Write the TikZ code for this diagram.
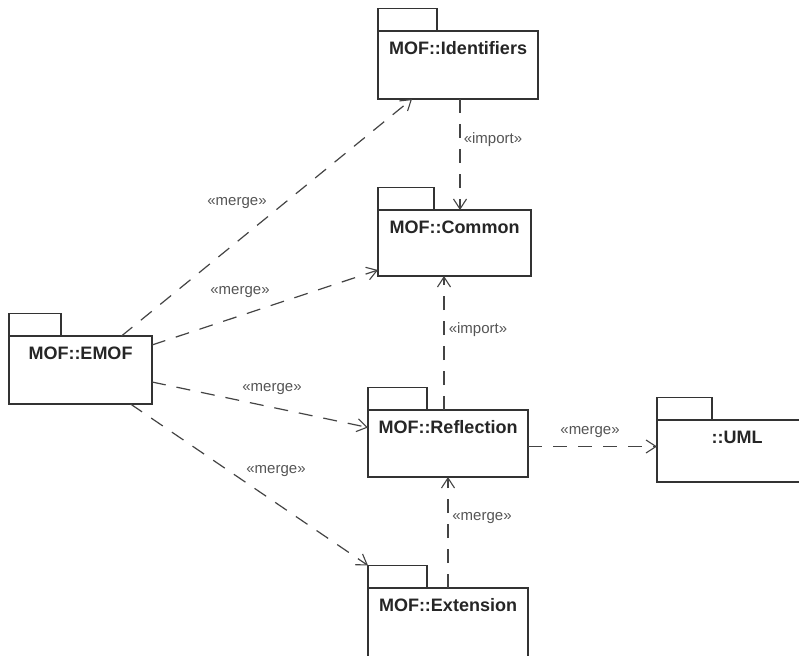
\documentclass[tikz,border=0pt]{standalone}
\usepackage{fontspec}
\setmainfont{Liberation Sans}
\usepackage{tikz}
\usetikzlibrary{arrows.meta,positioning}
\definecolor{boxline}{HTML}{333333}
\definecolor{depline}{HTML}{444444}
\definecolor{lbltext}{HTML}{555555}
\tikzset{
  pkg/.style = {draw=boxline, line width=1.2pt, fill=white, inner sep=0pt, outer sep=0pt},
  tab/.style = {pkg, minimum height=22.5pt},
  pkgname/.style = {font=\fontsize{18}{20}\selectfont\bfseries, text=black!85},
  dep/.style = {draw=depline, line width=1.2pt, dash pattern=on 14pt off 11pt,
    -{Straight Barb[length=10pt,width=13pt,line width=1.1pt]}},
  lbl/.style = {font=\fontsize{15}{17}\selectfont, text=lbltext, inner sep=1pt}
}
\begin{document}
\begin{tikzpicture}[x=1pt, y=-1pt]
\clip (0,0) rectangle (799,655);
\fill[white] (0,0) rectangle (799,655);
%packages
\foreach \n/\x/\y/\w/\h/\t/\s in {
    ident/458/65/160/68/59/{MOF::Identifiers},
    common/454.5/243/153/66/56/{MOF::Common},
    emof/80.5/370/143/68/52/{MOF::EMOF},
    refl/448/443.5/160/67/59/{MOF::Reflection},
    uml/737/451/160/62/55/{::UML},
    ext/448/624/160/72/59/{MOF::Extension}}{
  \node[pkg, minimum width=\w pt, minimum height=\h pt] (\n) at (\x,\y) {};
  \node[tab, minimum width=\t pt, anchor=south west] (\n-tab) at (\n.north west) {};
  \node[pkgname] (\n-name) at ([yshift=-17.5pt]\n.north) {\s};
}
%arrows
\draw[dep] ([xshift=2pt]ident.south) -- ([xshift=2pt]ident.south |- common.north);
\draw[dep] ([xshift=-4pt]refl.north) -- ([xshift=-4pt]refl.north |- common.south);
\draw[dep] (ext.north) -- (refl.south);
\draw[dep] ([yshift=-3pt]refl.east) -- ([yshift=-3pt]refl.east -| uml.west);
\draw[dep] ([xshift=41pt]emof.north) -- ([xshift=-46pt]ident.south);
\draw[dep] ([yshift=25pt]emof.east) -- ([yshift=6pt]common.south west);
\draw[dep] ([yshift=-12pt]emof.east) -- ([yshift=16pt]refl.west);
\draw[dep] ([xshift=50pt]emof.south) -- (ext-tab.north west);
%labels
\node[lbl] (imp1) at (493,140) {«import»};
\node[lbl] (imp2) at (478,330) {«import»};
\node[lbl] (mrg1) at (237,203) {«merge»};
\node[lbl] (mrg2) at (240,292) {«merge»};
\node[lbl] (mrg3) at (272,389) {«merge»};
\node[lbl] (mrg4) at (276,471) {«merge»};
\node[lbl] (mrg5) at (590,432) {«merge»};
\node[lbl] (mrg6) at (482,518) {«merge»};
\end{tikzpicture}
\end{document}
